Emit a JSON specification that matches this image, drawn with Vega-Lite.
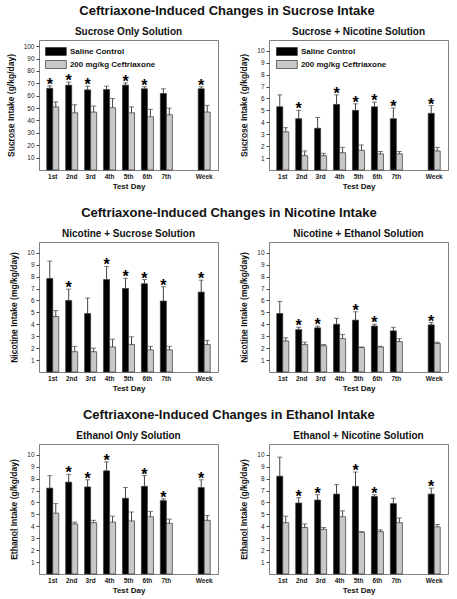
{
  "$schema": "https://vega.github.io/schema/vega-lite/v6.json",
  "background": "white",
  "padding": {"left": 5, "top": 4, "right": 5, "bottom": 2},
  "datasets": {
    "d": [
      {"p":"SO","day":"1st","g":"Saline Control","m":66,"hi":68,"sig":true},
      {"p":"SO","day":"1st","g":"200 mg/kg Ceftriaxone","m":51,"hi":55,"sig":false},
      {"p":"SO","day":"2nd","g":"Saline Control","m":68.5,"hi":71,"sig":true},
      {"p":"SO","day":"2nd","g":"200 mg/kg Ceftriaxone","m":46.2,"hi":52.7,"sig":false},
      {"p":"SO","day":"3rd","g":"Saline Control","m":64.7,"hi":67.7,"sig":true},
      {"p":"SO","day":"3rd","g":"200 mg/kg Ceftriaxone","m":46.8,"hi":51.6,"sig":false},
      {"p":"SO","day":"4th","g":"Saline Control","m":65,"hi":67.7,"sig":false},
      {"p":"SO","day":"4th","g":"200 mg/kg Ceftriaxone","m":50.3,"hi":57.8,"sig":false},
      {"p":"SO","day":"5th","g":"Saline Control","m":68.5,"hi":70.4,"sig":true},
      {"p":"SO","day":"5th","g":"200 mg/kg Ceftriaxone","m":46.2,"hi":51,"sig":false},
      {"p":"SO","day":"6th","g":"Saline Control","m":65.6,"hi":67.2,"sig":true},
      {"p":"SO","day":"6th","g":"200 mg/kg Ceftriaxone","m":43,"hi":49,"sig":false},
      {"p":"SO","day":"7th","g":"Saline Control","m":61.8,"hi":65.6,"sig":false},
      {"p":"SO","day":"7th","g":"200 mg/kg Ceftriaxone","m":44.6,"hi":50,"sig":false},
      {"p":"SO","day":"Week","g":"Saline Control","m":65.6,"hi":67.2,"sig":true},
      {"p":"SO","day":"Week","g":"200 mg/kg Ceftriaxone","m":46.8,"hi":52.2,"sig":false},

      {"p":"SN","day":"1st","g":"Saline Control","m":5.3,"hi":6.3,"sig":false},
      {"p":"SN","day":"1st","g":"200 mg/kg Ceftriaxone","m":3.2,"hi":3.55,"sig":false},
      {"p":"SN","day":"2nd","g":"Saline Control","m":4.3,"hi":5.0,"sig":true},
      {"p":"SN","day":"2nd","g":"200 mg/kg Ceftriaxone","m":1.2,"hi":1.6,"sig":false},
      {"p":"SN","day":"3rd","g":"Saline Control","m":3.5,"hi":4.4,"sig":false},
      {"p":"SN","day":"3rd","g":"200 mg/kg Ceftriaxone","m":1.2,"hi":1.4,"sig":false},
      {"p":"SN","day":"4th","g":"Saline Control","m":5.5,"hi":6.3,"sig":true},
      {"p":"SN","day":"4th","g":"200 mg/kg Ceftriaxone","m":1.45,"hi":1.9,"sig":false},
      {"p":"SN","day":"5th","g":"Saline Control","m":5.0,"hi":5.55,"sig":true},
      {"p":"SN","day":"5th","g":"200 mg/kg Ceftriaxone","m":1.65,"hi":2.1,"sig":false},
      {"p":"SN","day":"6th","g":"Saline Control","m":5.3,"hi":5.7,"sig":true},
      {"p":"SN","day":"6th","g":"200 mg/kg Ceftriaxone","m":1.35,"hi":1.55,"sig":false},
      {"p":"SN","day":"7th","g":"Saline Control","m":4.3,"hi":5.2,"sig":true},
      {"p":"SN","day":"7th","g":"200 mg/kg Ceftriaxone","m":1.35,"hi":1.55,"sig":false},
      {"p":"SN","day":"Week","g":"Saline Control","m":4.75,"hi":5.4,"sig":true},
      {"p":"SN","day":"Week","g":"200 mg/kg Ceftriaxone","m":1.6,"hi":1.9,"sig":false},

      {"p":"NS","day":"1st","g":"Saline Control","m":7.84,"hi":9.3,"sig":false},
      {"p":"NS","day":"1st","g":"200 mg/kg Ceftriaxone","m":4.65,"hi":5.15,"sig":false},
      {"p":"NS","day":"2nd","g":"Saline Control","m":6.0,"hi":6.95,"sig":true},
      {"p":"NS","day":"2nd","g":"200 mg/kg Ceftriaxone","m":1.7,"hi":2.15,"sig":false},
      {"p":"NS","day":"3rd","g":"Saline Control","m":4.9,"hi":6.2,"sig":false},
      {"p":"NS","day":"3rd","g":"200 mg/kg Ceftriaxone","m":1.7,"hi":2.0,"sig":false},
      {"p":"NS","day":"4th","g":"Saline Control","m":7.75,"hi":8.85,"sig":true},
      {"p":"NS","day":"4th","g":"200 mg/kg Ceftriaxone","m":2.1,"hi":2.75,"sig":false},
      {"p":"NS","day":"5th","g":"Saline Control","m":7.0,"hi":7.85,"sig":true},
      {"p":"NS","day":"5th","g":"200 mg/kg Ceftriaxone","m":2.3,"hi":2.95,"sig":false},
      {"p":"NS","day":"6th","g":"Saline Control","m":7.4,"hi":7.75,"sig":true},
      {"p":"NS","day":"6th","g":"200 mg/kg Ceftriaxone","m":1.85,"hi":2.15,"sig":false},
      {"p":"NS","day":"7th","g":"Saline Control","m":5.95,"hi":7.15,"sig":true},
      {"p":"NS","day":"7th","g":"200 mg/kg Ceftriaxone","m":1.85,"hi":2.15,"sig":false},
      {"p":"NS","day":"Week","g":"Saline Control","m":6.7,"hi":7.7,"sig":true},
      {"p":"NS","day":"Week","g":"200 mg/kg Ceftriaxone","m":2.3,"hi":2.65,"sig":false},

      {"p":"NE","day":"1st","g":"Saline Control","m":4.9,"hi":5.92,"sig":false},
      {"p":"NE","day":"1st","g":"200 mg/kg Ceftriaxone","m":2.6,"hi":2.87,"sig":false},
      {"p":"NE","day":"2nd","g":"Saline Control","m":3.55,"hi":3.75,"sig":true},
      {"p":"NE","day":"2nd","g":"200 mg/kg Ceftriaxone","m":2.3,"hi":2.5,"sig":false},
      {"p":"NE","day":"3rd","g":"Saline Control","m":3.7,"hi":3.85,"sig":true},
      {"p":"NE","day":"3rd","g":"200 mg/kg Ceftriaxone","m":2.2,"hi":2.3,"sig":false},
      {"p":"NE","day":"4th","g":"Saline Control","m":4.0,"hi":4.5,"sig":false},
      {"p":"NE","day":"4th","g":"200 mg/kg Ceftriaxone","m":2.8,"hi":3.15,"sig":false},
      {"p":"NE","day":"5th","g":"Saline Control","m":4.35,"hi":5.05,"sig":true},
      {"p":"NE","day":"5th","g":"200 mg/kg Ceftriaxone","m":2.05,"hi":2.1,"sig":false},
      {"p":"NE","day":"6th","g":"Saline Control","m":3.85,"hi":4.0,"sig":true},
      {"p":"NE","day":"6th","g":"200 mg/kg Ceftriaxone","m":2.1,"hi":2.15,"sig":false},
      {"p":"NE","day":"7th","g":"Saline Control","m":3.45,"hi":3.75,"sig":false},
      {"p":"NE","day":"7th","g":"200 mg/kg Ceftriaxone","m":2.55,"hi":2.8,"sig":false},
      {"p":"NE","day":"Week","g":"Saline Control","m":3.95,"hi":4.15,"sig":true},
      {"p":"NE","day":"Week","g":"200 mg/kg Ceftriaxone","m":2.4,"hi":2.5,"sig":false},

      {"p":"EO","day":"1st","g":"Saline Control","m":7.2,"hi":8.25,"sig":false},
      {"p":"EO","day":"1st","g":"200 mg/kg Ceftriaxone","m":5.1,"hi":5.9,"sig":false},
      {"p":"EO","day":"2nd","g":"Saline Control","m":7.7,"hi":8.35,"sig":true},
      {"p":"EO","day":"2nd","g":"200 mg/kg Ceftriaxone","m":4.2,"hi":4.35,"sig":false},
      {"p":"EO","day":"3rd","g":"Saline Control","m":7.3,"hi":7.9,"sig":true},
      {"p":"EO","day":"3rd","g":"200 mg/kg Ceftriaxone","m":4.3,"hi":4.5,"sig":false},
      {"p":"EO","day":"4th","g":"Saline Control","m":8.65,"hi":9.4,"sig":true},
      {"p":"EO","day":"4th","g":"200 mg/kg Ceftriaxone","m":4.35,"hi":4.85,"sig":false},
      {"p":"EO","day":"5th","g":"Saline Control","m":6.35,"hi":7.25,"sig":false},
      {"p":"EO","day":"5th","g":"200 mg/kg Ceftriaxone","m":4.45,"hi":5.2,"sig":false},
      {"p":"EO","day":"6th","g":"Saline Control","m":7.35,"hi":8.25,"sig":true},
      {"p":"EO","day":"6th","g":"200 mg/kg Ceftriaxone","m":4.8,"hi":5.25,"sig":false},
      {"p":"EO","day":"7th","g":"Saline Control","m":6.15,"hi":6.3,"sig":true},
      {"p":"EO","day":"7th","g":"200 mg/kg Ceftriaxone","m":4.25,"hi":4.6,"sig":false},
      {"p":"EO","day":"Week","g":"Saline Control","m":7.25,"hi":7.9,"sig":true},
      {"p":"EO","day":"Week","g":"200 mg/kg Ceftriaxone","m":4.5,"hi":4.9,"sig":false},

      {"p":"EN","day":"1st","g":"Saline Control","m":8.2,"hi":9.8,"sig":false},
      {"p":"EN","day":"1st","g":"200 mg/kg Ceftriaxone","m":4.3,"hi":4.85,"sig":false},
      {"p":"EN","day":"2nd","g":"Saline Control","m":5.95,"hi":6.4,"sig":true},
      {"p":"EN","day":"2nd","g":"200 mg/kg Ceftriaxone","m":3.9,"hi":4.2,"sig":false},
      {"p":"EN","day":"3rd","g":"Saline Control","m":6.2,"hi":6.65,"sig":true},
      {"p":"EN","day":"3rd","g":"200 mg/kg Ceftriaxone","m":3.75,"hi":3.9,"sig":false},
      {"p":"EN","day":"4th","g":"Saline Control","m":6.7,"hi":7.5,"sig":false},
      {"p":"EN","day":"4th","g":"200 mg/kg Ceftriaxone","m":4.8,"hi":5.3,"sig":false},
      {"p":"EN","day":"5th","g":"Saline Control","m":7.35,"hi":8.55,"sig":true},
      {"p":"EN","day":"5th","g":"200 mg/kg Ceftriaxone","m":3.5,"hi":3.55,"sig":false},
      {"p":"EN","day":"6th","g":"Saline Control","m":6.5,"hi":6.65,"sig":true},
      {"p":"EN","day":"6th","g":"200 mg/kg Ceftriaxone","m":3.55,"hi":3.7,"sig":false},
      {"p":"EN","day":"7th","g":"Saline Control","m":5.9,"hi":6.35,"sig":false},
      {"p":"EN","day":"7th","g":"200 mg/kg Ceftriaxone","m":4.3,"hi":4.7,"sig":false},
      {"p":"EN","day":"Week","g":"Saline Control","m":6.7,"hi":7.2,"sig":true},
      {"p":"EN","day":"Week","g":"200 mg/kg Ceftriaxone","m":3.95,"hi":4.15,"sig":false}
    ]
  },
  "resolve": {"scale": {"fill": "independent", "y": "independent"}, "legend": {"fill": "independent"}},
  "spacing": 15,
  "vconcat": [
    {
      "title": {"text": "Ceftriaxone-Induced Changes in Sucrose Intake", "fontSize": 13, "anchor": "middle", "offset": 9},
      "bounds": "flush",
      "spacing": 51,
      "resolve": {"scale": {"fill": "independent", "y": "independent"}, "legend": {"fill": "independent"}},
      "hconcat": [
        {
          "width": 179, "height": 130,
          "title": "Sucrose Only Solution",
          "data": {"name": "d"},
          "transform": [{"filter": "datum.p == 'SO'"}],
          "encoding": {
            "x": {"field": "day", "type": "nominal", "sort": null, "title": "Test Day",
                  "scale": {"domain": ["1st","2nd","3rd","4th","5th","6th","7th","gap","Week"], "paddingInner": 0.365, "paddingOuter": 0.41},
                  "axis": {"labelExpr": "datum.value == 'gap' ? '' : datum.value"}},
            "xOffset": {"field": "g", "type": "nominal", "sort": null, "scale": {"domain": ["Saline Control","200 mg/kg Ceftriaxone"], "paddingInner": 0, "paddingOuter": 0}}
          },
          "layer": [
            {"mark": {"type": "bar", "stroke": "#333", "strokeWidth": 0.7},
             "encoding": {
               "y": {"field": "m", "type": "quantitative", "scale": {"domain": [0, 105], "nice": false},
                     "title": "S̲u̲c̲r̲o̲s̲e̲ Intake (g/kg/day)", "axis": {"values": [10,20,30,40,50,60,70,80,90,100], "labelOverlap": false}},
               "fill": {"field": "g", "type": "nominal", "sort": null,
                        "scale": {"domain": ["Saline Control","200 mg/kg Ceftriaxone"], "range": ["#000000","#c8c8c8"]},
                        "legend": {"orient": "none", "legendX": 12.4, "legendY": 7, "title": null}}
             }},
            {"mark": {"type": "rule", "color": "#444", "strokeWidth": 1}, "encoding": {"y": {"field": "m", "type": "quantitative", "axis": {"values": [10,20,30,40,50,60,70,80,90,100], "labelOverlap": false}}, "y2": {"field": "hi"}}},
            {"mark": {"type": "tick", "color": "#444", "thickness": 1, "size": 5}, "encoding": {"y": {"field": "hi", "type": "quantitative", "axis": {"values": [10,20,30,40,50,60,70,80,90,100], "labelOverlap": false}}}},
            {"transform": [{"filter": "datum.sig"}],
             "mark": {"type": "text", "text": "*", "fontSize": 16, "fontWeight": "bold", "baseline": "middle", "dy": -1, "color": "#000"},
             "encoding": {"y": {"field": "hi", "type": "quantitative", "axis": {"values": [10,20,30,40,50,60,70,80,90,100], "labelOverlap": false}}}}
          ]
        },
        {
          "width": 179, "height": 130,
          "title": "Sucrose + Nicotine Solution",
          "data": {"name": "d"},
          "transform": [{"filter": "datum.p == 'SN'"}],
          "encoding": {
            "x": {"field": "day", "type": "nominal", "sort": null, "title": "Test Day",
                  "scale": {"domain": ["1st","2nd","3rd","4th","5th","6th","7th","gap","Week"], "paddingInner": 0.365, "paddingOuter": 0.41},
                  "axis": {"labelExpr": "datum.value == 'gap' ? '' : datum.value"}},
            "xOffset": {"field": "g", "type": "nominal", "sort": null, "scale": {"domain": ["Saline Control","200 mg/kg Ceftriaxone"], "paddingInner": 0, "paddingOuter": 0}}
          },
          "layer": [
            {"mark": {"type": "bar", "stroke": "#333", "strokeWidth": 0.7},
             "encoding": {
               "y": {"field": "m", "type": "quantitative", "scale": {"domain": [0, 10.9], "nice": false},
                     "title": "S̲u̲c̲r̲o̲s̲e̲ Intake (g/kg/day)", "axis": {"values": [1,2,3,4,5,6,7,8,9,10], "labelOverlap": false}},
               "fill": {"field": "g", "type": "nominal", "sort": null,
                        "scale": {"domain": ["Saline Control","200 mg/kg Ceftriaxone"], "range": ["#000000","#c8c8c8"]},
                        "legend": {"orient": "none", "legendX": 13.4, "legendY": 7, "title": null}}
             }},
            {"mark": {"type": "rule", "color": "#444", "strokeWidth": 1}, "encoding": {"y": {"field": "m", "type": "quantitative", "axis": {"values": [1,2,3,4,5,6,7,8,9,10], "labelOverlap": false}}, "y2": {"field": "hi"}}},
            {"mark": {"type": "tick", "color": "#444", "thickness": 1, "size": 5}, "encoding": {"y": {"field": "hi", "type": "quantitative", "axis": {"values": [1,2,3,4,5,6,7,8,9,10], "labelOverlap": false}}}},
            {"transform": [{"filter": "datum.sig"}],
             "mark": {"type": "text", "text": "*", "fontSize": 16, "fontWeight": "bold", "baseline": "middle", "dy": -1, "color": "#000"},
             "encoding": {"y": {"field": "hi", "type": "quantitative", "axis": {"values": [1,2,3,4,5,6,7,8,9,10], "labelOverlap": false}}}}
          ]
        }
      ]
    },
    {
      "title": {"text": "Ceftriaxone-Induced Changes in Nicotine Intake", "fontSize": 13, "anchor": "middle", "offset": 9},
      "bounds": "flush",
      "spacing": 51,
      "resolve": {"scale": {"fill": "independent", "y": "independent"}, "legend": {"fill": "independent"}},
      "hconcat": [
        {
          "width": 179, "height": 130,
          "title": "Nicotine + Sucrose Solution",
          "data": {"name": "d"},
          "transform": [{"filter": "datum.p == 'NS'"}],
          "encoding": {
            "x": {"field": "day", "type": "nominal", "sort": null, "title": "Test Day",
                  "scale": {"domain": ["1st","2nd","3rd","4th","5th","6th","7th","gap","Week"], "paddingInner": 0.365, "paddingOuter": 0.41},
                  "axis": {"labelExpr": "datum.value == 'gap' ? '' : datum.value"}},
            "xOffset": {"field": "g", "type": "nominal", "sort": null, "scale": {"domain": ["Saline Control","200 mg/kg Ceftriaxone"], "paddingInner": 0, "paddingOuter": 0}}
          },
          "layer": [
            {"mark": {"type": "bar", "stroke": "#333", "strokeWidth": 0.7},
             "encoding": {
               "y": {"field": "m", "type": "quantitative", "scale": {"domain": [0, 10.9], "nice": false},
                     "title": "N̲i̲c̲o̲t̲i̲n̲e̲ Intake (mg/kg/day)", "axis": {"values": [1,2,3,4,5,6,7,8,9,10], "labelOverlap": false}},
               "fill": {"field": "g", "type": "nominal", "sort": null,
                        "scale": {"domain": ["Saline Control","200 mg/kg Ceftriaxone"], "range": ["#000000","#c8c8c8"]},
                        "legend": null}
             }},
            {"mark": {"type": "rule", "color": "#444", "strokeWidth": 1}, "encoding": {"y": {"field": "m", "type": "quantitative", "axis": {"values": [1,2,3,4,5,6,7,8,9,10], "labelOverlap": false}}, "y2": {"field": "hi"}}},
            {"mark": {"type": "tick", "color": "#444", "thickness": 1, "size": 5}, "encoding": {"y": {"field": "hi", "type": "quantitative", "axis": {"values": [1,2,3,4,5,6,7,8,9,10], "labelOverlap": false}}}},
            {"transform": [{"filter": "datum.sig"}],
             "mark": {"type": "text", "text": "*", "fontSize": 16, "fontWeight": "bold", "baseline": "middle", "dy": -1, "color": "#000"},
             "encoding": {"y": {"field": "hi", "type": "quantitative", "axis": {"values": [1,2,3,4,5,6,7,8,9,10], "labelOverlap": false}}}}
          ]
        },
        {
          "width": 179, "height": 130,
          "title": "Nicotine + Ethanol Solution",
          "data": {"name": "d"},
          "transform": [{"filter": "datum.p == 'NE'"}],
          "encoding": {
            "x": {"field": "day", "type": "nominal", "sort": null, "title": "Test Day",
                  "scale": {"domain": ["1st","2nd","3rd","4th","5th","6th","7th","gap","Week"], "paddingInner": 0.365, "paddingOuter": 0.41},
                  "axis": {"labelExpr": "datum.value == 'gap' ? '' : datum.value"}},
            "xOffset": {"field": "g", "type": "nominal", "sort": null, "scale": {"domain": ["Saline Control","200 mg/kg Ceftriaxone"], "paddingInner": 0, "paddingOuter": 0}}
          },
          "layer": [
            {"mark": {"type": "bar", "stroke": "#333", "strokeWidth": 0.7},
             "encoding": {
               "y": {"field": "m", "type": "quantitative", "scale": {"domain": [0, 10.9], "nice": false},
                     "title": "N̲i̲c̲o̲t̲i̲n̲e̲ Intake (mg/kg/day)", "axis": {"values": [1,2,3,4,5,6,7,8,9,10], "labelOverlap": false}},
               "fill": {"field": "g", "type": "nominal", "sort": null,
                        "scale": {"domain": ["Saline Control","200 mg/kg Ceftriaxone"], "range": ["#000000","#c8c8c8"]},
                        "legend": null}
             }},
            {"mark": {"type": "rule", "color": "#444", "strokeWidth": 1}, "encoding": {"y": {"field": "m", "type": "quantitative", "axis": {"values": [1,2,3,4,5,6,7,8,9,10], "labelOverlap": false}}, "y2": {"field": "hi"}}},
            {"mark": {"type": "tick", "color": "#444", "thickness": 1, "size": 5}, "encoding": {"y": {"field": "hi", "type": "quantitative", "axis": {"values": [1,2,3,4,5,6,7,8,9,10], "labelOverlap": false}}}},
            {"transform": [{"filter": "datum.sig"}],
             "mark": {"type": "text", "text": "*", "fontSize": 16, "fontWeight": "bold", "baseline": "middle", "dy": -1, "color": "#000"},
             "encoding": {"y": {"field": "hi", "type": "quantitative", "axis": {"values": [1,2,3,4,5,6,7,8,9,10], "labelOverlap": false}}}}
          ]
        }
      ]
    },
    {
      "title": {"text": "Ceftriaxone-Induced Changes in Ethanol Intake", "fontSize": 13, "anchor": "middle", "offset": 9},
      "bounds": "flush",
      "spacing": 51,
      "resolve": {"scale": {"fill": "independent", "y": "independent"}, "legend": {"fill": "independent"}},
      "hconcat": [
        {
          "width": 179, "height": 130,
          "title": "Ethanol Only Solution",
          "data": {"name": "d"},
          "transform": [{"filter": "datum.p == 'EO'"}],
          "encoding": {
            "x": {"field": "day", "type": "nominal", "sort": null, "title": "Test Day",
                  "scale": {"domain": ["1st","2nd","3rd","4th","5th","6th","7th","gap","Week"], "paddingInner": 0.365, "paddingOuter": 0.41},
                  "axis": {"labelExpr": "datum.value == 'gap' ? '' : datum.value"}},
            "xOffset": {"field": "g", "type": "nominal", "sort": null, "scale": {"domain": ["Saline Control","200 mg/kg Ceftriaxone"], "paddingInner": 0, "paddingOuter": 0}}
          },
          "layer": [
            {"mark": {"type": "bar", "stroke": "#333", "strokeWidth": 0.7},
             "encoding": {
               "y": {"field": "m", "type": "quantitative", "scale": {"domain": [0, 10.9], "nice": false},
                     "title": "E̲t̲h̲a̲n̲o̲l̲ Intake (g/kg/day)", "axis": {"values": [1,2,3,4,5,6,7,8,9,10], "labelOverlap": false}},
               "fill": {"field": "g", "type": "nominal", "sort": null,
                        "scale": {"domain": ["Saline Control","200 mg/kg Ceftriaxone"], "range": ["#000000","#c8c8c8"]},
                        "legend": null}
             }},
            {"mark": {"type": "rule", "color": "#444", "strokeWidth": 1}, "encoding": {"y": {"field": "m", "type": "quantitative", "axis": {"values": [1,2,3,4,5,6,7,8,9,10], "labelOverlap": false}}, "y2": {"field": "hi"}}},
            {"mark": {"type": "tick", "color": "#444", "thickness": 1, "size": 5}, "encoding": {"y": {"field": "hi", "type": "quantitative", "axis": {"values": [1,2,3,4,5,6,7,8,9,10], "labelOverlap": false}}}},
            {"transform": [{"filter": "datum.sig"}],
             "mark": {"type": "text", "text": "*", "fontSize": 16, "fontWeight": "bold", "baseline": "middle", "dy": -1, "color": "#000"},
             "encoding": {"y": {"field": "hi", "type": "quantitative", "axis": {"values": [1,2,3,4,5,6,7,8,9,10], "labelOverlap": false}}}}
          ]
        },
        {
          "width": 179, "height": 130,
          "title": "Ethanol + Nicotine Solution",
          "data": {"name": "d"},
          "transform": [{"filter": "datum.p == 'EN'"}],
          "encoding": {
            "x": {"field": "day", "type": "nominal", "sort": null, "title": "Test Day",
                  "scale": {"domain": ["1st","2nd","3rd","4th","5th","6th","7th","gap","Week"], "paddingInner": 0.365, "paddingOuter": 0.41},
                  "axis": {"labelExpr": "datum.value == 'gap' ? '' : datum.value"}},
            "xOffset": {"field": "g", "type": "nominal", "sort": null, "scale": {"domain": ["Saline Control","200 mg/kg Ceftriaxone"], "paddingInner": 0, "paddingOuter": 0}}
          },
          "layer": [
            {"mark": {"type": "bar", "stroke": "#333", "strokeWidth": 0.7},
             "encoding": {
               "y": {"field": "m", "type": "quantitative", "scale": {"domain": [0, 10.9], "nice": false},
                     "title": "E̲t̲h̲a̲n̲o̲l̲ Intake (g/kg/day)", "axis": {"values": [1,2,3,4,5,6,7,8,9,10], "labelOverlap": false}},
               "fill": {"field": "g", "type": "nominal", "sort": null,
                        "scale": {"domain": ["Saline Control","200 mg/kg Ceftriaxone"], "range": ["#000000","#c8c8c8"]},
                        "legend": null}
             }},
            {"mark": {"type": "rule", "color": "#444", "strokeWidth": 1}, "encoding": {"y": {"field": "m", "type": "quantitative", "axis": {"values": [1,2,3,4,5,6,7,8,9,10], "labelOverlap": false}}, "y2": {"field": "hi"}}},
            {"mark": {"type": "tick", "color": "#444", "thickness": 1, "size": 5}, "encoding": {"y": {"field": "hi", "type": "quantitative", "axis": {"values": [1,2,3,4,5,6,7,8,9,10], "labelOverlap": false}}}},
            {"transform": [{"filter": "datum.sig"}],
             "mark": {"type": "text", "text": "*", "fontSize": 16, "fontWeight": "bold", "baseline": "middle", "dy": -1, "color": "#000"},
             "encoding": {"y": {"field": "hi", "type": "quantitative", "axis": {"values": [1,2,3,4,5,6,7,8,9,10], "labelOverlap": false}}}}
          ]
        }
      ]
    }
  ],
  "config": {
    "font": "Liberation Sans",
    "view": {"stroke": "#808080", "strokeWidth": 1},
    "axis": {"grid": false, "domain": false, "labelFont": "Liberation Sans", "titleFont": "Liberation Sans", "labelColor": "#222", "titleColor": "#111"},
    "axisY": {"tickSize": 3, "tickColor": "#444", "labelFontSize": 6.5, "titleFontSize": 8.5, "titleFontWeight": "bold", "labelPadding": 2, "titlePadding": 8, "labelOverlap": false, "labelFlush": false},
    "axisX": {"ticks": false, "labelFontSize": 6.5, "labelFontWeight": "bold", "labelAngle": 0, "titleFontSize": 8, "titleFontWeight": "bold", "labelPadding": 3, "titlePadding": 3},
    "title": {"font": "Liberation Sans", "fontWeight": "bold", "fontSize": 10, "offset": 3, "color": "#111"},
    "legend": {"labelFont": "Liberation Sans", "labelFontSize": 8, "labelFontWeight": "bold", "labelColor": "#111",
               "symbolType": "M-2.6,-1H2.6V1H-2.6Z", "symbolSize": 64, "symbolStrokeColor": "#333", "symbolStrokeWidth": 0.7,
               "rowPadding": 2, "labelOffset": 9.5, "padding": 0}
  }
}
